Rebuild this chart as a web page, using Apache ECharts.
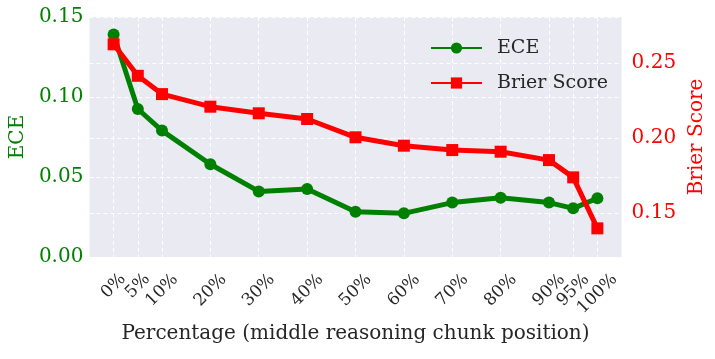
<!DOCTYPE html>
<html>
<head>
<meta charset="utf-8">
<script src="https://cdn.jsdelivr.net/npm/echarts@6/dist/echarts.min.js"></script>
<style>
  html, body { margin: 0; padding: 0; background: #fff; }
  #chart { width: 715px; height: 359px; }
</style>
</head>
<body>
<div id="chart"></div>
<script>
// 数据
const positions = [0, 5, 10, 20, 30, 40, 50, 60, 70, 80, 90, 95, 100]
const eceValues = [0.139, 0.0925, 0.079, 0.058, 0.041, 0.0425, 0.0283, 0.0273, 0.034, 0.037, 0.034, 0.0304, 0.0367]
const brierValues = [0.2625, 0.2415, 0.2293, 0.2209, 0.2165, 0.2127, 0.2005, 0.1949, 0.192, 0.1909, 0.1853, 0.1738, 0.1398]
const eceTicks = [0, 0.05, 0.1, 0.15]
const brierTicks = [0.15, 0.2, 0.25]

const FONT = 'DejaVu Serif'
const GREEN = '#008000'
const RED = '#ff0000'

function pair(xs, ys) {
  return xs.map((x, i) => [x, ys[i]])
}

// 旋转标签居中于刻度（类似 matplotlib 的 ha=center）
function tickRich(fontSize, glyphW) {
  let rich = {}
  ;[2, 3, 4].forEach((n) => {
    let w = glyphW[n]
    let d = 15 + (w + 13) / 2.83
    let p = Math.round(d * 1.414)
    rich['s' + n] = {
      fontFamily: FONT,
      fontSize: fontSize,
      color: '#262626',
      padding: [p, p, 0, 0],
    }
  })
  return rich
}

;(function () {
  let chart = echarts.init(document.getElementById('chart'))
  let gridLine = {
    show: true,
    lineStyle: { color: '#ffffff', type: [4, 3], width: 1 },
  }
  let option = {
    animation: false,
    textStyle: { fontFamily: FONT },
    grid: {
      left: 87,
      right: 87,
      top: 17,
      bottom: 102,
      show: true,
      backgroundColor: '#eaeaf2',
      borderWidth: 0,
    },
    legend: {
      top: 32,
      left: 425,
      orient: 'vertical',
      itemWidth: 51,
      itemHeight: 14,
      itemGap: 13,
      textStyle: {
        fontFamily: FONT,
        fontSize: 19,
        lineHeight: 22,
        color: '#262626',
        padding: [0, 0, 0, 10],
      },
      data: ['ECE', 'Brier Score'],
    },
    xAxis: {
      type: 'value',
      min: -5,
      max: 105,
      name: 'Percentage (middle reasoning chunk position)',
      nameLocation: 'middle',
      nameGap: 67,
      nameTextStyle: { fontFamily: FONT, fontSize: 20, color: '#262626' },
      axisLine: { show: false },
      axisTick: { show: false, customValues: positions },
      axisLabel: {
        customValues: positions,
        rotate: 45,
        align: 'center',
        verticalAlign: 'middle',
        margin: 0,
        formatter: (v) => {
          let s = v + '%'
          return '{s' + s.length + '|' + s + '}'
        },
        rich: tickRich(17, { 2: 27, 3: 38, 4: 49 }),
      },
      splitLine: gridLine,
    },
    yAxis: [
      {
        type: 'value',
        min: 0,
        max: 0.15,
        position: 'left',
        name: 'ECE',
        nameLocation: 'middle',
        nameRotate: 90,
        nameGap: 60,
        nameTextStyle: { fontFamily: FONT, fontSize: 20, color: GREEN },
        axisLine: { show: false },
        axisTick: { show: false, customValues: eceTicks },
        axisLabel: {
          customValues: eceTicks,
          fontFamily: FONT,
          fontSize: 20,
          color: GREEN,
          margin: 6,
          formatter: (v) => v.toFixed(2),
        },
        splitLine: gridLine,
      },
      {
        type: 'value',
        min: 0.1207,
        max: 0.2807,
        position: 'right',
        name: 'Brier Score',
        nameLocation: 'middle',
        nameRotate: 90,
        nameGap: 53,
        nameTextStyle: { fontFamily: FONT, fontSize: 20, color: RED },
        axisLine: { show: false },
        axisTick: { show: false, customValues: brierTicks },
        axisLabel: {
          customValues: brierTicks,
          fontFamily: FONT,
          fontSize: 20,
          color: RED,
          margin: 10,
          formatter: (v) => v.toFixed(2),
        },
        splitLine: gridLine,
      },
    ],
    series: [
      {
        name: 'ECE',
        type: 'line',
        yAxisIndex: 0,
        data: pair(positions, eceValues),
        symbol: 'circle',
        symbolSize: 12,
        lineStyle: { color: GREEN, width: 5 },
        itemStyle: { color: GREEN },
      },
      {
        name: 'Brier Score',
        type: 'line',
        yAxisIndex: 1,
        data: pair(positions, brierValues),
        symbol: 'rect',
        symbolSize: 12,
        lineStyle: { color: RED, width: 5 },
        itemStyle: { color: RED },
      },
    ],
  }
  chart.setOption(option)
})()
</script>
</body>
</html>
